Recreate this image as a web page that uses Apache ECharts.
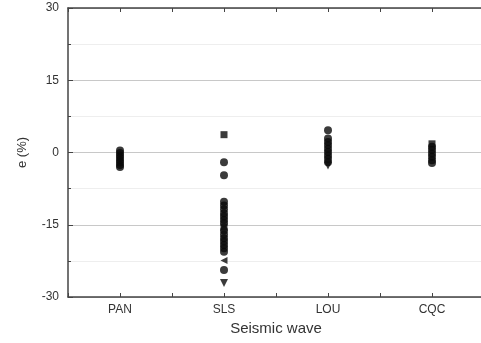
<!DOCTYPE html>
<html><head><meta charset="utf-8">
<script src="https://cdn.jsdelivr.net/npm/echarts@6/dist/echarts.min.js"></script>
<style>html,body{margin:0;padding:0;background:#fff}#c{width:481px;height:343px}</style>
</head><body><div id="c"></div>
<script>
var categories = ['PAN', 'SLS', 'LOU', 'CQC'];
var yTicks = [-30, -15, 0, 15, 30];
// circle markers per category
var panCircles = [0.4, -0.1, -0.6, -1.1, -1.6, -2.1, -2.6, -3.0];
var slsCircles = [-2.0, -4.7, -10.2, -11.0, -11.8, -12.6, -13.3, -14.0, -14.7, -16.2, -17.0, -17.8, -18.5, -19.2, -19.9, -20.6, -24.4];
var louCircles = [4.6, 2.9, 2.2, 1.5, 0.8, 0.1, -0.6, -1.3, -2.0];
var cqcCircles = [1.2, 0.5, -0.2, -0.9, -1.6, -2.2];
// other marker shapes
var slsSquares = [3.7, -15.5];
var slsTriangleLeft = [-22.4];
var slsTriangleDown = [-27.1];
var louTriangleDown = [-2.7];
var cqcSquares = [1.8];

function pts(catIndex, arr){ return arr.map(function(v){ return [catIndex + 1, v]; }); }

var chart = echarts.init(document.getElementById('c'));
var black = '#0a0a0a';
chart.setOption({
  animation: false,
  grid: {left: 68, width: 416, top: 8, bottom: 46, outerBoundsMode: 'none', containLabel: false},
  xAxis: [{
    type: 'value', min: 0.5, max: 4.5, interval: 0.5,
    name: 'Seismic wave', nameLocation: 'middle', nameGap: 23,
    nameTextStyle: {fontFamily: 'Liberation Sans', fontSize: 15, color: '#333'},
    axisLine: {show: true, onZero: false, lineStyle: {color: '#444', width: 1.5}},
    axisTick: {show: true, inside: true, length: 4, lineStyle: {color: '#444'}},
    axisLabel: {margin: 7, fontFamily: 'Liberation Sans', fontSize: 12, color: '#333',
      formatter: function(v){ return Number.isInteger(v) ? categories[v - 1] : ''; }},
    splitLine: {show: false}
  }, {
    type: 'value', position: 'top', min: 0.5, max: 4.5, interval: 0.5,
    axisLine: {show: true, onZero: false, lineStyle: {color: '#444', width: 1.5}},
    axisTick: {show: true, inside: true, length: 4, lineStyle: {color: '#444'}},
    axisLabel: {show: false}, splitLine: {show: false}
  }],
  yAxis: {
    type: 'value', min: -30, max: 30, interval: 15,
    name: 'e (%)', nameLocation: 'middle', nameGap: 39, nameRotate: 90,
    nameTextStyle: {fontFamily: 'Liberation Sans', fontSize: 13, color: '#333'},
    axisLine: {show: true, onZero: false, lineStyle: {color: '#444', width: 1.5}},
    axisTick: {show: true, inside: true, length: 5, lineStyle: {color: '#444'}},
    minorTick: {show: true, splitNumber: 2, length: 3, lineStyle: {color: '#444'}},
    axisLabel: {margin: 9, fontFamily: 'Liberation Sans', fontSize: 12, color: '#333',
      formatter: function(v){ return yTicks.indexOf(v) >= 0 ? String(v) : ''; }},
    splitLine: {show: true, lineStyle: {color: '#c8c8c8', width: 1}},
    minorSplitLine: {show: true, lineStyle: {color: '#eeeeee', width: 1}}
  },
  series: [
    {type: 'scatter', symbol: 'circle', symbolSize: 8, itemStyle: {color: black},
     data: [].concat(pts(0, panCircles), pts(1, slsCircles), pts(2, louCircles), pts(3, cqcCircles))},
    {type: 'scatter', symbol: 'rect', symbolSize: 7, itemStyle: {color: black},
     data: [].concat(pts(1, slsSquares), pts(3, cqcSquares))},
    {type: 'scatter', symbol: 'triangle', symbolRotate: 90, symbolSize: 7, itemStyle: {color: black},
     data: pts(1, slsTriangleLeft)},
    {type: 'scatter', symbol: 'triangle', symbolRotate: 180, symbolSize: 8, itemStyle: {color: black},
     data: [].concat(pts(1, slsTriangleDown), pts(2, louTriangleDown))}
  ]
});
</script></body></html>
